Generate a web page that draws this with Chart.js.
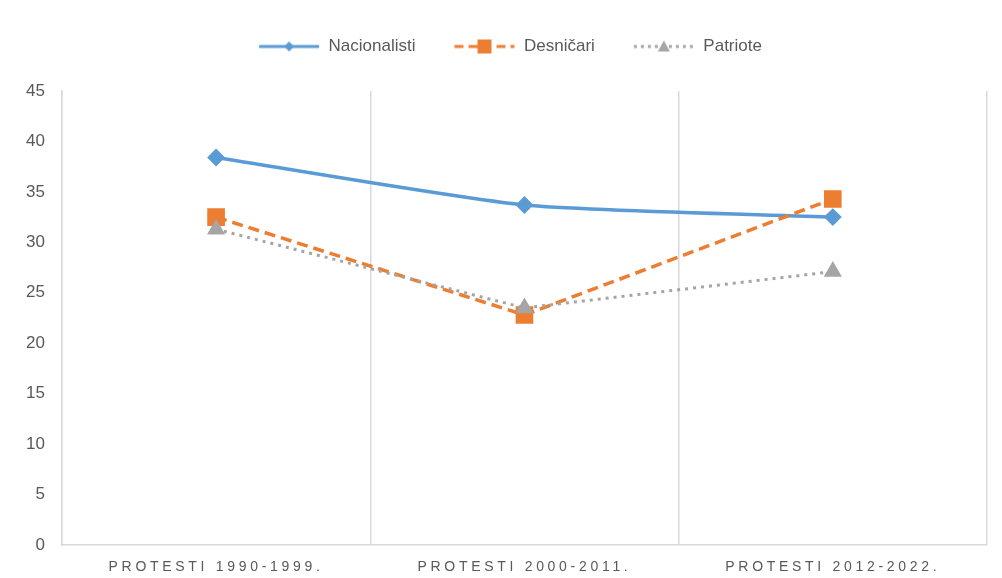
<!DOCTYPE html>
<html>
<head>
<meta charset="utf-8">
<script src="https://cdn.jsdelivr.net/npm/chart.js@4/dist/chart.umd.min.js"></script>
<style>
  html, body { margin: 0; padding: 0; background: #fff; }
  #wrap { width: 1002px; height: 578px; }
</style>
</head>
<body>
<div id="wrap"><canvas id="chart" width="1002" height="578"></canvas></div>
<script>
// data
const categories = ["PROTESTI 1990-1999.", "PROTESTI 2000-2011.", "PROTESTI 2012-2022."];
const nacionalisti = [38.4, 33.7, 32.5];
const desnicari = [32.5, 22.8, 34.3];
const patriote = [31.3, 23.5, 27.1];

const BLUE = "#5b9bd5";
const ORANGE = "#ed7d31";
const GREY = "#a5a5a5";
const TEXT = "#595959";
const FONT = "'Liberation Sans', Arial, sans-serif";

// little line+marker pictures for the legend
function legendIcon(color, dash, marker) {
  let c = document.createElement("canvas");
  c.width = 62;
  c.height = 18;
  let g = c.getContext("2d");
  g.strokeStyle = color;
  g.fillStyle = color;
  g.lineWidth = 3;
  g.setLineDash(dash);
  g.beginPath();
  g.moveTo(1, 9);
  g.lineTo(61, 9);
  g.stroke();
  g.setLineDash([]);
  g.beginPath();
  if (marker == "diamond") {
    g.moveTo(31, 4); g.lineTo(36, 9); g.lineTo(31, 14); g.lineTo(26, 9);
  } else if (marker == "square") {
    g.rect(24, 2, 14, 14);
  } else {
    g.moveTo(31, 3); g.lineTo(37, 14); g.lineTo(25, 14);
  }
  g.closePath();
  g.fill();
  return c;
}
const icons = [
  legendIcon(BLUE, [], "diamond"),
  legendIcon(ORANGE, [9, 5], "square"),
  legendIcon(GREY, [3, 4], "triangle")
];

// extra room under the legend, and nudge it a bit right
const legendGap = {
  id: "legendGap",
  afterInit(chart) {
    const fit = chart.legend.fit;
    chart.legend.fit = function () {
      fit.call(this);
      this.height += 26;
    };
  },
  afterLayout(chart) {
    chart.legend.left += 12;
    chart.legend.right += 12;
  }
};

new Chart(document.getElementById("chart"), {
  type: "line",
  plugins: [legendGap],
  data: {
    labels: categories,
    datasets: [
      {
        label: "Nacionalisti",
        data: nacionalisti,
        borderColor: BLUE,
        backgroundColor: BLUE,
        borderWidth: 3.5,
        pointStyle: "rectRot",
        pointRadius: 6.5,
        tension: 0.2,
        order: 3
      },
      {
        label: "Desničari",
        data: desnicari,
        borderColor: ORANGE,
        backgroundColor: ORANGE,
        borderWidth: 3.5,
        borderDash: [11, 6],
        pointStyle: "rect",
        pointRadius: 10,
        tension: 0,
        order: 2
      },
      {
        label: "Patriote",
        data: patriote,
        borderColor: GREY,
        backgroundColor: GREY,
        borderWidth: 3,
        borderDash: [3, 5],
        pointStyle: "triangle",
        pointRadius: 7.5,
        tension: 0,
        order: 1
      }
    ]
  },
  options: {
    responsive: false,
    animation: false,
    layout: { padding: { left: 9, right: 15, top: 0, bottom: 0 } },
    plugins: {
      tooltip: { enabled: false },
      legend: {
        position: "top",
        labels: {
          usePointStyle: true,
          pointStyleWidth: 62,
          padding: 38,
          color: TEXT,
          font: { family: FONT, size: 17 },
          sort: (a, b) => a.datasetIndex - b.datasetIndex,
          generateLabels: function (chart) {
            let items = Chart.defaults.plugins.legend.labels.generateLabels(chart);
            items.forEach(function (it) { it.pointStyle = icons[it.datasetIndex]; });
            return items;
          }
        }
      }
    },
    scales: {
      x: {
        offset: true,
        grid: { display: true, offset: true, color: "#d9d9d9", lineWidth: 1.5, drawTicks: false },
        border: { display: true, color: "#d9d9d9", width: 1.5 },
        ticks: {
          color: TEXT,
          padding: 14,
          font: { family: FONT, size: 14 }
        },
        afterFit: function (scale) {
          scale.height = 33;
        },
        afterBuildTicks: function (scale) {
          // letter-spaced category labels
          if (scale._spaced) return;
          scale._spaced = true;
          let orig = scale.drawLabels;
          scale.drawLabels = function (area) {
            let ctx = this.ctx;
            ctx.save();
            ctx.letterSpacing = "3.7px";
            orig.call(this, area);
            ctx.restore();
          };
        }
      },
      y: {
        min: 0,
        max: 45,
        grid: { display: true, color: "transparent", drawTicks: false },
        border: { display: true, color: "#d9d9d9", width: 1.5 },
        ticks: {
          stepSize: 5,
          color: TEXT,
          padding: 17,
          font: { family: FONT, size: 17 }
        }
      }
    }
  }
});
</script>
</body>
</html>
